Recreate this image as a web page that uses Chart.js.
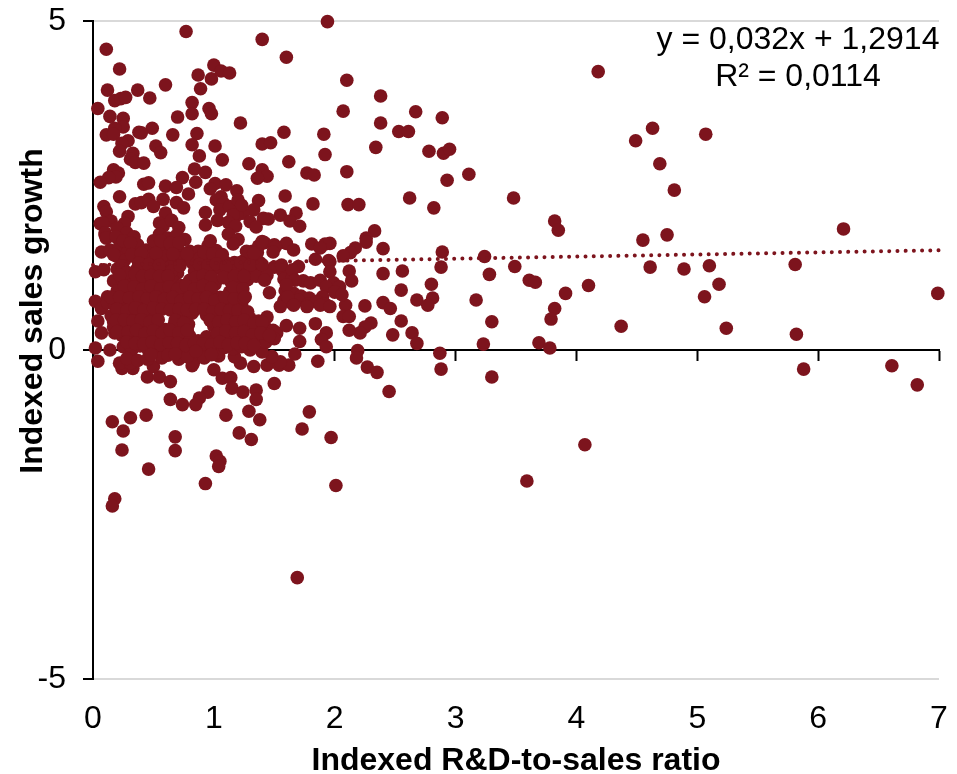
<!DOCTYPE html>
<html><head><meta charset="utf-8">
<style>html,body{margin:0;padding:0;background:#fff}canvas{display:block}</style>
<script src="https://cdn.jsdelivr.net/npm/chart.js@4"></script>
</head><body><canvas id="c" width="957" height="774"></canvas>
<script>
const xTickValues=[0,1,2,3,4,5,6,7];
const yTickValues=[-5,0,5];
const xAxisTitle="Indexed R&D-to-sales ratio";
const yAxisTitle="Indexed sales growth";
const equationLines=["y = 0,032x + 1,2914","R² = 0,0114"];
const trendX=[0,7];
const trendY=[1.2914,1.5154];
const rightFirms=[[4.63,3.37],[4.49,3.18],[5.07,3.28],[4.69,2.83],[4.81,2.43],[6.21,1.84],[4.55,1.67],[4.75,1.75],[4.61,1.26],[4.89,1.23],[5.10,1.28],[5.81,1.30],[5.18,1.00],[5.06,0.81],[6.99,0.86],[4.37,0.36],[5.24,0.33],[5.82,0.24],[5.88,-0.29],[6.61,-0.24],[6.82,-0.53],[4.07,-1.44],[3.59,-1.99]];
const middleFirms=[[4.18,4.23],[2.10,4.10],[2.38,3.86],[2.07,3.63],[2.67,3.62],[2.89,3.53],[2.38,3.45],[2.53,3.32],[2.61,3.32],[2.34,3.08],[2.78,3.02],[2.90,2.99],[2.95,3.05],[2.10,2.71],[3.11,2.67],[2.93,2.58],[2.62,2.31],[3.48,2.31],[2.82,2.16],[2.11,2.21],[2.20,2.21],[3.82,1.96],[3.85,1.82],[2.33,1.81],[2.26,1.70],[2.26,1.64],[1.96,1.62],[2.17,1.55],[2.40,1.54],[2.89,1.49],[2.13,1.48],[2.07,1.43],[3.24,1.42],[2.88,1.26],[3.49,1.27],[2.12,1.20],[1.96,1.34],[2.40,1.16],[2.56,1.20],[3.28,1.15],[2.14,1.05],[2.80,1.00],[3.61,1.06],[3.66,1.03],[4.10,0.98],[2.55,0.91],[3.91,0.86],[3.17,0.76],[2.81,0.79],[2.68,0.76],[2.77,0.68],[2.40,0.72],[2.46,0.63],[2.09,0.68],[2.25,0.67],[3.82,0.63],[3.79,0.47],[3.30,0.43],[2.55,0.44],[2.30,0.41],[2.25,0.35],[2.21,0.26],[2.12,0.30],[2.07,0.51],[2.12,0.51],[2.48,0.23],[2.64,0.26],[2.68,0.10],[3.23,0.09],[3.69,0.11],[3.78,0.03],[2.19,-0.01],[2.18,-0.12],[2.87,-0.05],[2.27,-0.26],[2.35,-0.34],[2.88,-0.29],[3.30,-0.41],[2.45,-0.63]];
const lowerFirms=[[0.04,-0.17],[0.24,-0.28],[0.33,-0.28],[0.45,-0.41],[0.55,-0.41],[0.64,-0.48],[0.50,-0.25],[0.82,-0.24],[1.00,-0.30],[1.07,-0.43],[1.14,-0.42],[1.15,-0.58],[1.24,-0.64],[1.35,-0.61],[1.35,-0.75],[1.50,-0.51],[1.22,-0.20],[1.33,-0.25],[1.44,-0.23],[1.54,-0.23],[1.62,-0.23],[1.86,-0.17],[0.95,-0.64],[0.88,-0.73],[0.85,-0.83],[0.74,-0.83],[0.64,-0.75],[0.44,-0.99],[0.31,-1.03],[0.16,-1.09],[0.25,-1.23],[0.24,-1.52],[0.68,-1.32],[0.68,-1.53],[0.46,-1.81],[1.10,-0.99],[1.29,-0.93],[1.38,-1.06],[1.21,-1.26],[1.31,-1.36],[1.02,-1.61],[1.05,-1.69],[1.04,-1.77],[0.93,-2.03],[1.79,-0.94],[1.73,-1.20],[1.97,-1.33],[2.01,-2.06],[0.18,-2.26],[0.16,-2.37],[1.69,-3.46],[1.67,-0.06],[1.55,-0.18],[1.48,-0.10],[1.40,-0.03],[1.17,-0.10],[0.83,-0.20],[1.04,-0.09],[0.02,0.03],[0.14,0.00],[0.22,-0.20],[0.31,-0.20]];
const upperFirms=[[0.77,4.84],[1.94,4.99],[0.11,4.57],[1.40,4.72],[1.60,4.45],[0.22,4.27],[1.00,4.33],[0.87,4.18],[0.98,4.12],[1.06,4.24],[1.13,4.21],[0.60,4.03],[0.89,3.97],[0.12,3.95],[0.37,3.95],[0.18,3.79],[0.23,3.82],[0.27,3.84],[0.47,3.83],[0.82,3.76],[0.82,3.59],[0.04,3.67],[0.96,3.67],[0.98,3.59],[0.14,3.55],[0.25,3.52],[0.70,3.54],[1.22,3.45],[1.58,3.31],[1.91,3.28],[1.92,2.97],[0.25,3.39],[0.18,3.37],[0.11,3.27],[0.17,3.28],[0.49,3.37],[0.38,3.31],[0.40,3.30],[0.66,3.27],[0.86,3.29],[0.82,3.12],[1.01,3.10],[0.88,2.95],[1.07,2.89],[0.29,3.18],[0.24,3.14],[0.22,3.02],[0.52,3.10],[0.56,3.00],[0.33,2.99],[0.31,2.90],[0.35,2.85],[0.42,2.84],[1.40,3.13],[1.47,3.15],[1.29,2.83],[1.62,2.86],[1.77,2.69],[1.83,2.66],[1.40,2.74],[1.44,2.64],[1.36,2.61],[0.84,2.75],[0.93,2.70],[0.85,2.55],[0.74,2.62],[0.17,2.74],[0.21,2.69],[0.19,2.63],[0.13,2.62],[0.06,2.55],[0.42,2.52],[0.46,2.54],[0.60,2.49],[0.69,2.47],[1.01,2.53],[0.97,2.45],[1.10,2.51],[1.19,2.42],[1.59,2.34],[1.82,2.22],[0.22,2.33],[0.79,2.37],[0.58,2.29],[1.37,2.27],[1.06,2.33],[1.02,2.28],[1.08,2.23],[0.35,2.22],[0.40,2.24],[0.46,2.29],[0.50,2.18],[0.69,2.24],[0.75,2.16],[0.09,2.18],[0.11,2.10],[0.60,2.08],[0.93,2.09],[0.29,2.03],[0.06,1.92],[0.15,1.96],[0.26,1.92],[1.68,2.08],[1.55,2.05],[1.45,1.99],[1.41,2.00],[1.63,1.96],[1.71,1.88],[1.33,2.13],[1.24,2.08],[1.05,2.13],[1.13,2.18],[1.19,2.05],[1.20,2.28],[1.23,2.20],[1.16,2.05],[1.60,1.62],[1.66,1.52],[1.81,1.61],[1.92,1.61],[1.84,1.38],[1.95,1.36],[1.70,1.27],[1.96,1.19],[0.10,1.75],[0.08,1.93],[0.07,1.49],[0.02,1.19],[0.09,1.22],[0.17,1.05],[0.02,0.74],[0.04,0.44],[0.07,0.26],[0.10,1.78],[0.11,1.70],[0.17,1.49],[0.12,0.81],[0.07,0.63],[0.17,0.43],[0.18,0.26]];
const coreFirms=[[0.55,1.93],[0.58,1.88],[0.65,1.97],[0.71,1.86],[0.93,1.90],[1.03,1.97],[1.12,1.94],[1.18,1.88],[1.30,1.95],[1.35,1.87],[0.20,1.85],[0.28,1.78],
[0.19,1.72],[0.34,1.72],[0.55,1.76],[0.62,1.70],[0.69,1.74],[0.76,1.68],[1.12,1.76],[1.20,1.68],
[0.14,1.52],[0.22,1.58],[0.29,1.50],[0.37,1.60],[0.44,1.52],[0.51,1.58],[0.58,1.50],[0.65,1.56],[0.72,1.49],[0.80,1.50],[0.87,1.50],[0.95,1.58],[1.02,1.51],[1.32,1.50],[1.37,1.58],[1.50,1.60],
[0.20,1.42],[0.26,1.36],[0.35,1.41],[0.41,1.33],[0.48,1.43],[0.54,1.36],[0.60,1.42],[0.67,1.34],[0.74,1.40],[0.82,1.33],[0.89,1.40],[0.96,1.35],[1.03,1.42],[1.09,1.34],[1.17,1.33],[1.25,1.36],[1.32,1.42],[1.38,1.33],
[0.20,1.23],[0.36,1.22],[0.43,1.19],[0.50,1.27],[0.57,1.20],[0.63,1.26],[0.70,1.17],[0.84,1.20],[0.91,1.26],[0.98,1.20],[1.05,1.24],[1.12,1.18],[1.20,1.25],[1.27,1.19],[1.34,1.24],[1.41,1.21],[1.50,1.26],[1.57,1.20],
[0.24,1.08],[0.31,1.02],[0.38,1.08],[0.45,1.00],[0.52,1.06],[0.59,1.00],[0.66,1.05],[0.73,0.98],[0.80,1.06],[0.87,1.00],[0.94,1.07],[1.01,1.00],[1.14,1.04],[1.21,1.00],[1.28,1.07],[1.35,1.12],[1.44,1.14],[1.58,1.08],[1.65,1.10],[1.74,1.05],[1.80,1.02],[1.88,1.06],[1.99,1.02],[2.04,0.96],[1.93,0.96],
[0.20,0.90],[0.28,0.86],[0.35,0.90],[0.42,0.84],[0.49,0.90],[0.56,0.84],[0.63,0.89],[0.70,0.83],[0.77,0.90],[0.84,0.84],[0.91,0.90],[0.98,0.85],[1.05,0.80],[1.13,0.88],[1.20,0.85],[1.59,0.90],[1.66,0.86],[1.72,0.82],[1.79,0.79],[1.90,0.81],[2.00,0.88],[2.06,0.84],
[0.12,0.72],[0.18,0.68],[0.25,0.74],[0.32,0.68],[0.39,0.73],[0.46,0.67],[0.53,0.72],[0.60,0.66],[0.67,0.72],[0.74,0.66],[0.81,0.72],[0.88,0.67],[0.95,0.72],[1.02,0.66],[1.09,0.72],[1.16,0.67],[1.23,0.70],[1.58,0.75],[1.64,0.72],[1.70,0.76],[1.78,0.70],[1.85,0.74],[1.92,0.70],
[0.15,0.52],[0.22,0.56],[0.29,0.50],[0.36,0.55],[0.43,0.49],[0.50,0.57],[0.69,0.55],[0.76,0.49],[0.82,0.56],[0.94,0.53],[1.01,0.49],[1.08,0.55],[1.15,0.49],[1.22,0.54],[1.30,0.48],[1.37,0.44],[1.44,0.50],
[0.17,0.35],[0.25,0.39],[0.32,0.33],[0.39,0.38],[0.46,0.32],[0.53,0.37],[0.60,0.31],[0.67,0.38],[0.74,0.32],[0.79,0.39],[1.00,0.36],[1.07,0.31],[1.14,0.38],[1.21,0.32],[1.28,0.37],[1.35,0.30],[1.42,0.36],[1.49,0.30],[1.52,0.26],
[0.24,0.22],[0.31,0.17],[0.38,0.22],[0.45,0.15],[0.52,0.21],[0.59,0.15],[0.66,0.22],[0.73,0.16],[0.80,0.21],[0.87,0.14],[0.94,0.20],[1.01,0.14],[1.08,0.21],[1.15,0.15],[1.22,0.21],[1.29,0.14],[1.36,0.18],[1.43,0.12],[1.50,0.17],
[0.25,0.05],[0.32,0.00],[0.39,0.06],[0.46,-0.01],[0.53,0.05],[0.60,-0.02],[0.67,0.04],[0.74,-0.04],[0.81,0.03],[0.88,-0.05],[0.95,0.02],[1.02,-0.04],[1.09,0.04],[1.16,0.02],[1.23,0.05],[1.30,0.00],[0.28,-0.13],[0.37,-0.16],[0.45,-0.14],[0.57,-0.12],[0.71,-0.14],[0.78,-0.10],[0.92,-0.12]];
const coreInfillFirms=[[0.25,1.66],[0.31,1.63],[0.50,1.66],[0.56,1.66],[0.64,1.62],[0.71,1.63],[0.97,1.66],[1.16,1.61],[1.42,1.63],
[0.17,1.45],[0.32,1.45],[0.40,1.47],[0.52,1.47],[0.66,1.46],[0.78,1.46],[0.92,1.48],[0.99,1.46],[1.07,1.45],[1.27,1.50],[1.36,1.48],
[0.24,1.28],[0.28,1.18],[0.38,1.32],[0.46,1.30],[0.55,1.29],[0.65,1.20],[0.72,1.28],[0.88,1.30],[0.95,1.28],[1.02,1.31],[1.10,1.27],[1.22,1.33],[1.30,1.29],[1.40,1.30],
[0.22,1.14],[0.35,1.15],[0.41,1.12],[0.48,1.13],[0.55,1.12],[0.62,1.12],[0.85,1.10],[0.91,1.13],[0.98,1.11],[1.08,1.10],[1.17,1.12],[1.25,1.12],
[0.26,0.97],[0.34,0.96],[0.41,0.93],[0.48,0.97],[0.56,0.93],[0.63,0.96],[0.70,0.92],[0.77,0.98],[0.84,0.93],[0.91,0.98],[0.98,0.94],[1.16,0.95],[1.24,0.93],
[0.15,0.80],[0.22,0.80],[0.30,0.79],[0.38,0.81],[0.45,0.78],[0.52,0.81],[0.59,0.77],[0.66,0.80],[0.73,0.75],[0.80,0.80],[0.87,0.78],[0.94,0.80],[1.01,0.75],[1.09,0.80],[1.17,0.78],[1.25,0.79],
[0.20,0.62],[0.28,0.60],[0.35,0.64],[0.42,0.60],[0.50,0.64],[0.57,0.62],[0.64,0.61],[0.71,0.62],[0.78,0.61],[0.85,0.62],[0.92,0.62],[0.99,0.58],[1.06,0.62],[1.13,0.60],[1.20,0.60],[1.28,0.58],
[0.19,0.45],[0.26,0.46],[0.33,0.44],[0.40,0.46],[0.47,0.42],[0.54,0.46],[0.68,0.45],[0.75,0.41],[0.97,0.45],[1.04,0.42],[1.11,0.45],[1.18,0.43],[1.25,0.45],[1.33,0.40],[1.40,0.42],
[0.20,0.28],[0.29,0.27],[0.36,0.30],[0.43,0.25],[0.50,0.29],[0.57,0.25],[0.64,0.30],[0.71,0.26],[0.78,0.30],[1.03,0.25],[1.10,0.29],[1.18,0.26],[1.25,0.28],[1.32,0.23],[1.39,0.26],[1.46,0.22],
[0.28,0.12],[0.35,0.10],[0.42,0.09],[0.49,0.12],[0.56,0.08],[0.63,0.11],[0.70,0.10],[0.77,0.07],[0.84,0.10],[0.91,0.09],[0.98,0.08],[1.05,0.12],[1.12,0.08],[1.19,0.11],[1.26,0.10],[1.33,0.07],
[0.48,-0.07],[0.62,-0.08],[0.68,-0.06],[0.85,-0.02],[0.98,-0.07]];
const eastCoreFirms=[[1.40,1.65],[1.88,1.55],[1.51,1.57],[1.33,1.47],[1.49,1.49],[1.56,1.29],[1.65,1.22],[1.67,1.06],[1.60,0.99],[1.42,1.06],[1.46,0.87],[1.26,0.81],[1.55,0.66],[1.61,0.81],[1.88,0.68],[1.77,0.66],[1.66,0.68],[1.96,0.66],[1.60,0.37],[1.71,0.33],[1.84,0.40],[1.93,0.26],[1.89,0.16],[1.71,0.13],[1.93,0.05]];
const marker="#7D141D";
const allFirms=[...rightFirms,...middleFirms,...lowerFirms,...upperFirms,...coreFirms,...coreInfillFirms,...eastCoreFirms];
const font={family:"'Liberation Sans',Arial,sans-serif",size:32};
const bold={family:"'Liberation Sans',Arial,sans-serif",size:32,weight:"bold",lineHeight:1};
const extraText={id:"extraText",afterDraw(ch){const g=ch.ctx;g.save();g.fillStyle="#000";g.textBaseline="middle";
 g.font="32px 'Liberation Sans',Arial,sans-serif";g.textAlign="center";
 g.fillText(equationLines[0],798,40);g.fillText(equationLines[1],798,77);
 g.font="bold 32px 'Liberation Sans',Arial,sans-serif";g.translate(33,311);g.rotate(-Math.PI/2);g.fillText(yAxisTitle,0,0);g.restore();}};
new Chart(document.getElementById("c"),{
 data:{datasets:[
  {type:"scatter",data:allFirms.map(p=>({x:p[0],y:p[1]})),backgroundColor:marker,borderColor:marker,borderWidth:0,pointRadius:6.8,pointHoverRadius:6.8,clip:false,order:2},
  {type:"line",data:trendX.map((x,i)=>({x,y:trendY[i]})),borderColor:marker,borderWidth:4,borderDash:[0.01,8.2],borderCapStyle:"round",pointRadius:0,fill:false,clip:false,order:1}
 ]},
 plugins:[extraText],
 options:{responsive:false,animation:false,
  layout:{padding:{top:21,right:18,left:0,bottom:0}},
  plugins:{legend:{display:false},tooltip:{enabled:false}},
  scales:{
   x:{type:"linear",position:"bottom",min:0,max:7,
    afterBuildTicks(s){s.ticks=xTickValues.map(value=>({value}));},
    afterFit(s){s.height=95;s.paddingLeft=0;s.paddingRight=0;},
    grid:{display:false,drawTicks:false},border:{display:false},
    ticks:{color:"#000",font,padding:21,maxRotation:0,autoSkip:false},
    title:{display:true,text:xAxisTitle,color:"#000",font:bold,padding:{top:0,bottom:-3}}},
   xAxisLine:{type:"linear",axis:"x",position:{y:0},min:0,max:7,
    afterBuildTicks(s){s.ticks=xTickValues.map(value=>({value}));},
    afterFit(s){s.paddingLeft=0;s.paddingRight=0;},
    grid:{drawOnChartArea:false,drawTicks:true,tickLength:10,tickColor:"#000",tickWidth:2},
    border:{display:true,color:"#000",width:2},
    ticks:{display:false}},
   y:{type:"linear",position:"left",min:-5,max:5,
    afterBuildTicks(s){s.ticks=yTickValues.map(value=>({value}));},
    afterFit(s){s.width=93;s.paddingTop=0;s.paddingBottom=0;},
    grid:{color:"#d9d9d9",lineWidth:2,drawTicks:true,tickLength:10,tickColor:"#000",tickWidth:2},
    border:{display:true,color:"#000",width:2},
    ticks:{color:"#000",font,padding:17,autoSkip:false}}
  }}
});
</script></body></html>
